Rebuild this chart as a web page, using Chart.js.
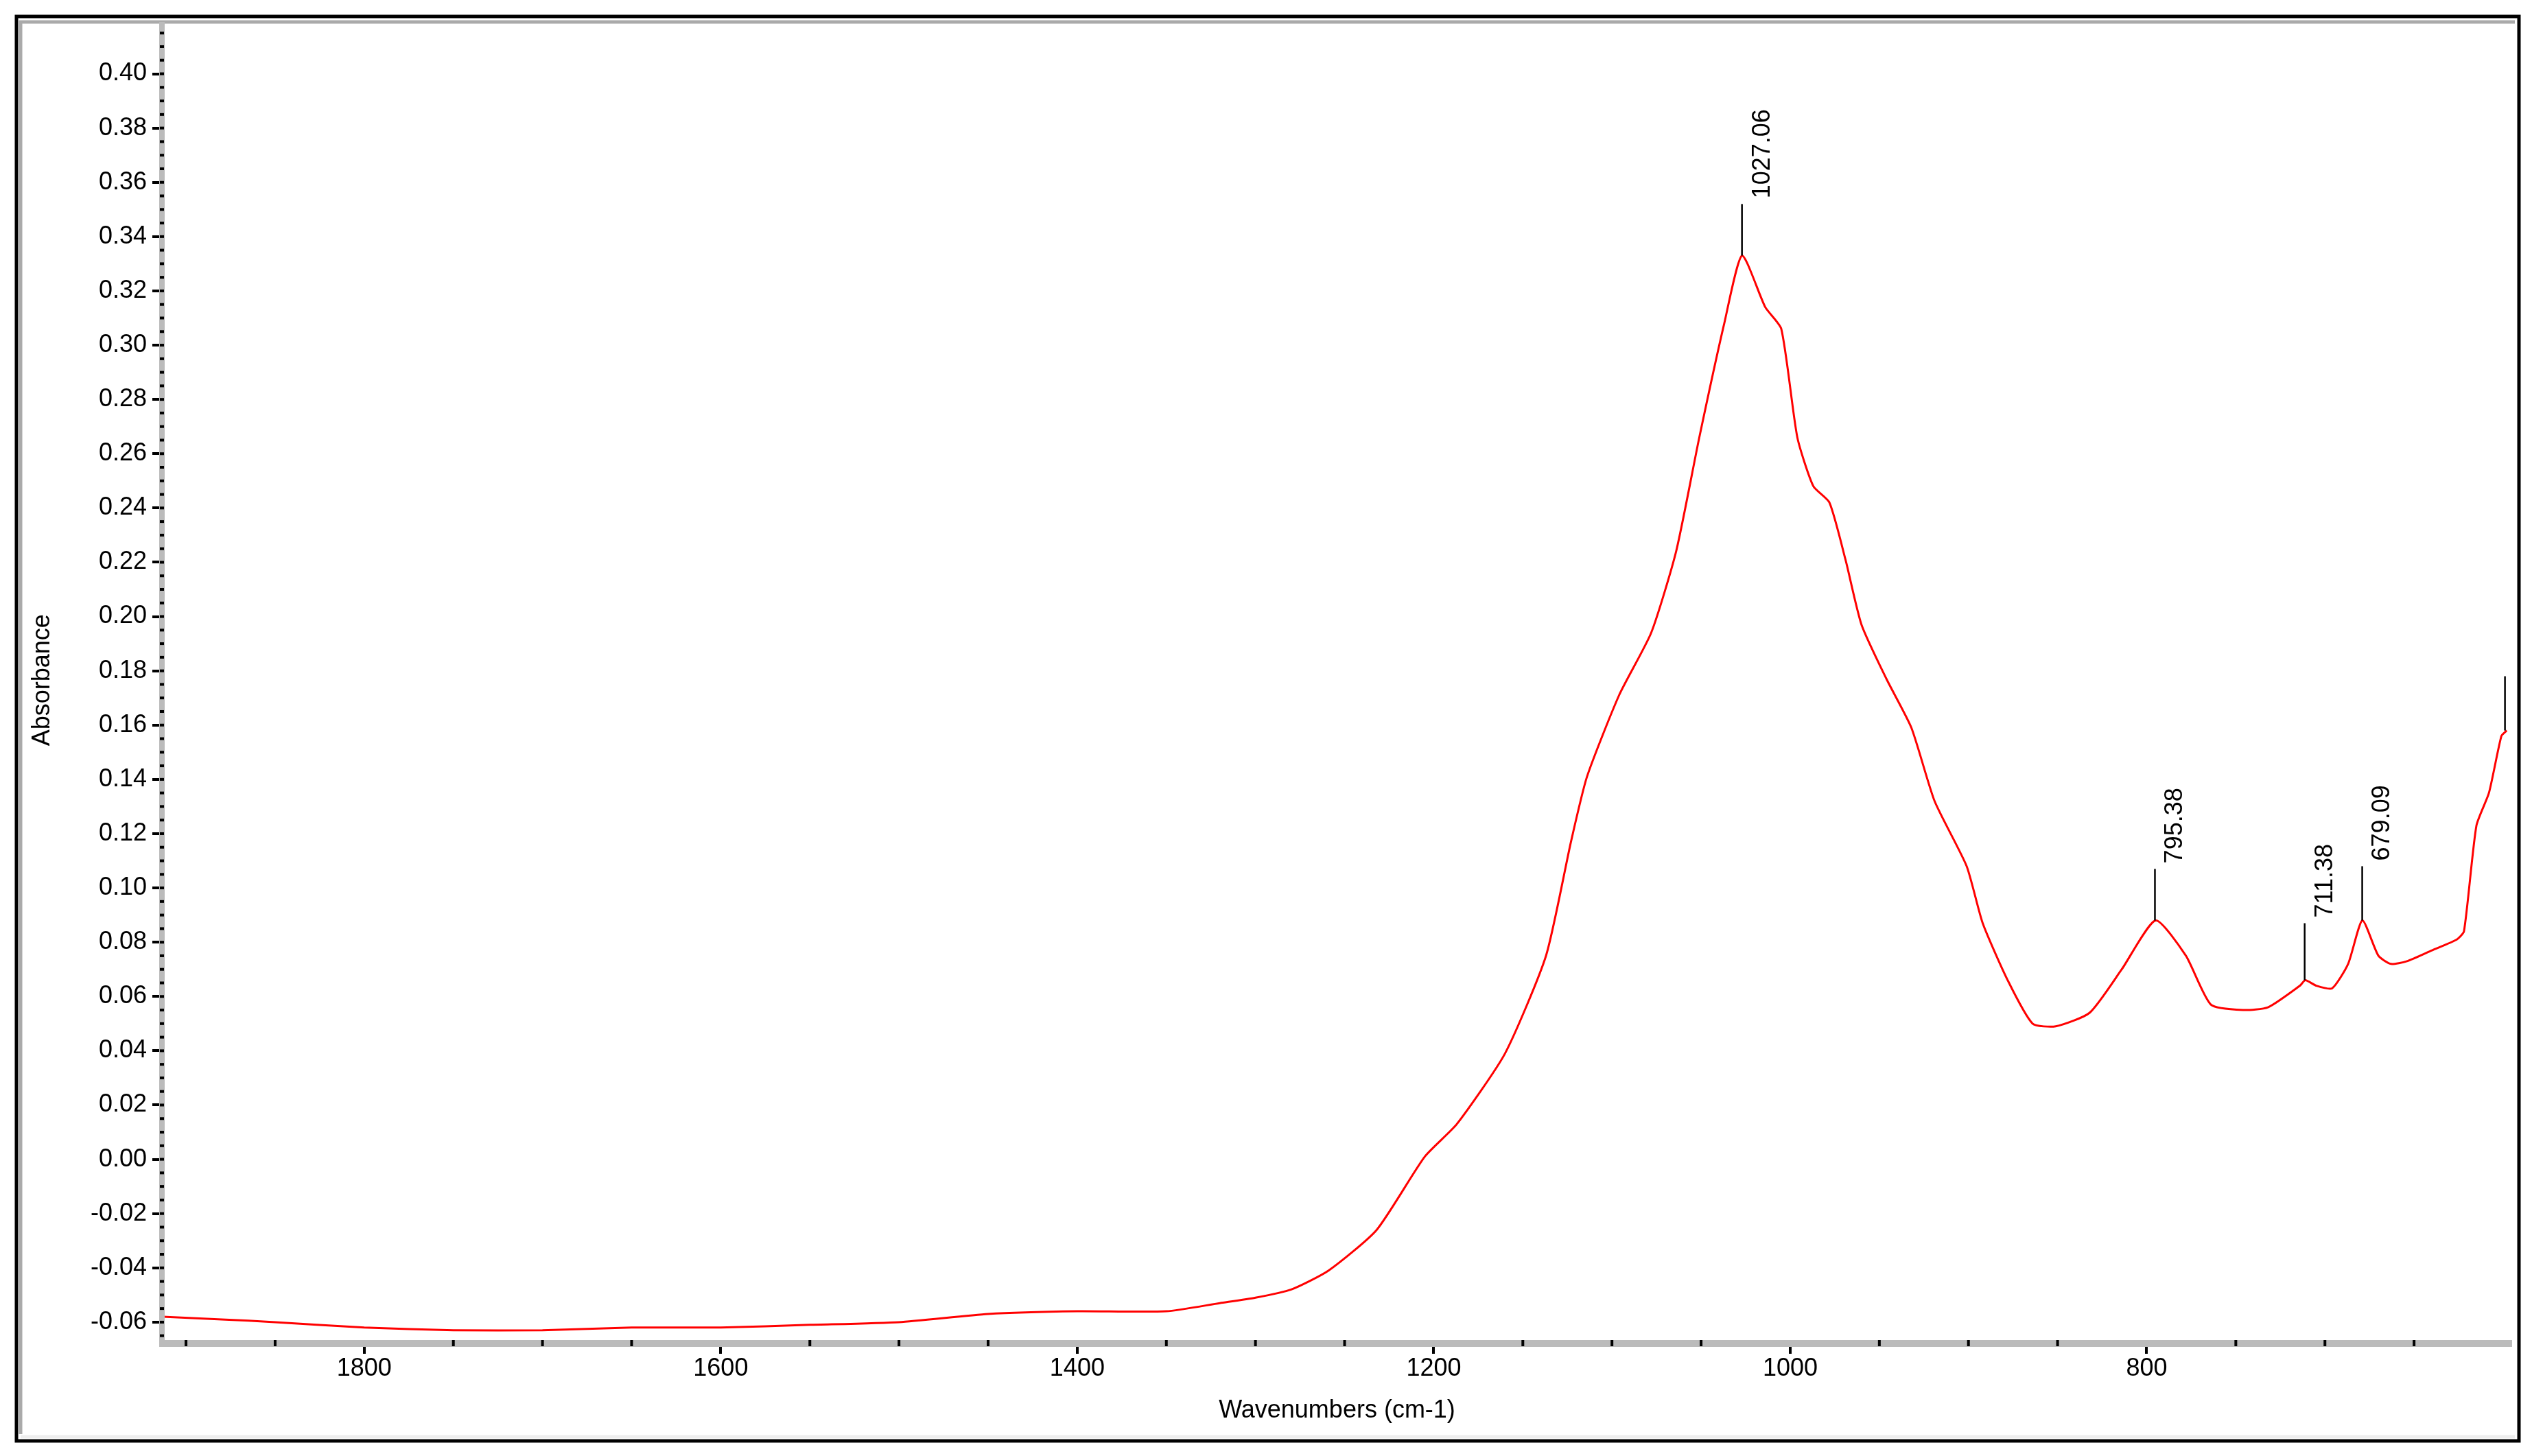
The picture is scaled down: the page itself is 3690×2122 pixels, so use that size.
<!DOCTYPE html>
<html><head><meta charset="utf-8">
<script src="https://cdn.jsdelivr.net/npm/chart.js@4/dist/chart.umd.min.js"></script>
<style>html,body{margin:0;padding:0;background:#fff}#w{width:3690px;height:2122px;position:relative}</style>
</head><body><div id="w"><canvas id="c"></canvas></div>
<script>
const wavenumbers = [1913,1880,1850,1800,1750,1700,1650,1600,1550,1500,1450,1400,1350,1320,1300,1280,1259,1232,1205,1187,1160,1137,1123,1114,1096,1078,1064,1051,1037,1027,1014,1005,996,987,978,969,960,946,932,919,901,892,878,864,851,832,814,795,778,764,746,732,714,711,705,696,687,679,670,663,654,640,626,622,615,608,601,598];
const absorbance = [-0.058,-0.059,-0.060,-0.062,-0.063,-0.063,-0.062,-0.062,-0.061,-0.060,-0.057,-0.056,-0.056,-0.053,-0.051,-0.048,-0.041,-0.026,0.001,0.013,0.039,0.075,0.117,0.141,0.171,0.194,0.224,0.266,0.308,0.333,0.314,0.306,0.266,0.248,0.242,0.221,0.197,0.177,0.159,0.132,0.108,0.087,0.066,0.050,0.049,0.054,0.070,0.088,0.075,0.057,0.055,0.056,0.064,0.066,0.064,0.063,0.072,0.088,0.075,0.072,0.073,0.077,0.081,0.084,0.123,0.135,0.156,0.158];
const peakLabels = ["1027.06","795.38","711.38","679.09",""];
const peakPositions = [1027.06,795.38,711.38,679.09,599];
const peakValues = [0.333,0.088,0.066,0.088,0.158];
const peakTops = [0.352,0.107,0.087,0.108,0.178];
const xTicks = [1800,1600,1400,1200,1000,800];

const F = "'Liberation Sans', Arial, sans-serif";
const deco = {
  id:'deco',
  beforeDraw(ch){
    const c=ch.ctx; c.save();
    c.fillStyle='#fff'; c.fillRect(0,0,ch.width,ch.height);
    c.restore();
  },
  afterDraw(ch){
    const c=ch.ctx, a=ch.chartArea, x=ch.scales.x, y=ch.scales.y;
    c.save();
    c.strokeStyle='#000'; c.lineWidth=5; c.strokeRect(24,24,3647,2076);
    c.strokeStyle='#aaa'; c.lineWidth=5; c.beginPath(); c.moveTo(30,2090); c.lineTo(30,32); c.lineTo(3665,32); c.stroke();
    c.strokeStyle='#eee'; c.beginPath(); c.moveTo(30,2094); c.lineTo(3665,2094); c.stroke();
    c.fillStyle='#bbb';
    c.fillRect(a.left-4,32,8,a.bottom-32+10);
    c.fillRect(a.left-4,a.bottom,a.right-a.left+4,10);
    c.fillStyle='#000';
    for(let v=-0.065; v<=0.42; v+=0.005){
      const p=y.getPixelForValue(v); if(p<36) continue;
      c.fillRect(a.left-3,p-2,6,4);
    }
    for(let v=600; v<=1900; v+=50){
      if(v%200===0) continue;
      const p=x.getPixelForValue(v);
      c.fillRect(p-2,a.bottom,4,9);
    }
    c.strokeStyle='#000'; c.lineWidth=2.5;
    c.font='36px '+F; c.fillStyle='#000';
    peakPositions.forEach((w,i)=>{
      const px=x.getPixelForValue(w), y0=y.getPixelForValue(peakValues[i]), y1=y.getPixelForValue(peakTops[i]);
      c.beginPath(); c.moveTo(px,y0); c.lineTo(px,y1); c.stroke();
      if(peakLabels[i]){
        c.save(); c.translate(px+12,y1-8); c.rotate(-Math.PI/2);
        c.textAlign='left'; c.textBaseline='top'; c.fillText(peakLabels[i],0,0); c.restore();
      }
    });
    c.restore();
  }
};
new Chart(document.getElementById('c'),{
  type:'line',
  data:{datasets:[{data:wavenumbers.map((w,i)=>({x:w,y:absorbance[i]})),borderColor:'#ff0000',borderWidth:3,pointRadius:0,tension:0.2,fill:false}]},
  options:{
    responsive:true,maintainAspectRatio:false,animation:false,devicePixelRatio:1,
    layout:{padding:{left:40,right:29,top:28,bottom:22}},
    plugins:{legend:{display:false},tooltip:{enabled:false}},
    scales:{
      x:{type:'linear',reverse:true,min:595,max:1913.5,
        afterBuildTicks(s){s.ticks=xTicks.map(v=>({value:v}));},
        afterFit(s){s.height=147;},
        border:{display:false},
        grid:{drawOnChartArea:false,color:'#000',tickLength:20,lineWidth:4},
        ticks:{color:'#000',font:{family:F,size:36},padding:0,maxRotation:0,callback:v=>String(v)},
        title:{display:true,text:'Wavenumbers (cm-1)',color:'#000',font:{family:F,size:36},padding:{top:0,bottom:22}}},
      y:{min:-0.0666,max:0.4197,
        afterBuildTicks(s){const t=[];for(let i=-6;i<=40;i+=2)t.push({value:i/100});s.ticks=t;},
        afterFit(s){s.width=196;},
        border:{display:false},
        grid:{drawOnChartArea:false,color:'#000',tickLength:14,lineWidth:4},
        ticks:{color:'#000',font:{family:F,size:36},padding:8,callback:v=>v.toFixed(2)},
        title:{display:true,text:'Absorbance',color:'#000',font:{family:F,size:36},padding:{top:0,bottom:20}}}
    }
  },
  plugins:[deco]
});
</script></body></html>
